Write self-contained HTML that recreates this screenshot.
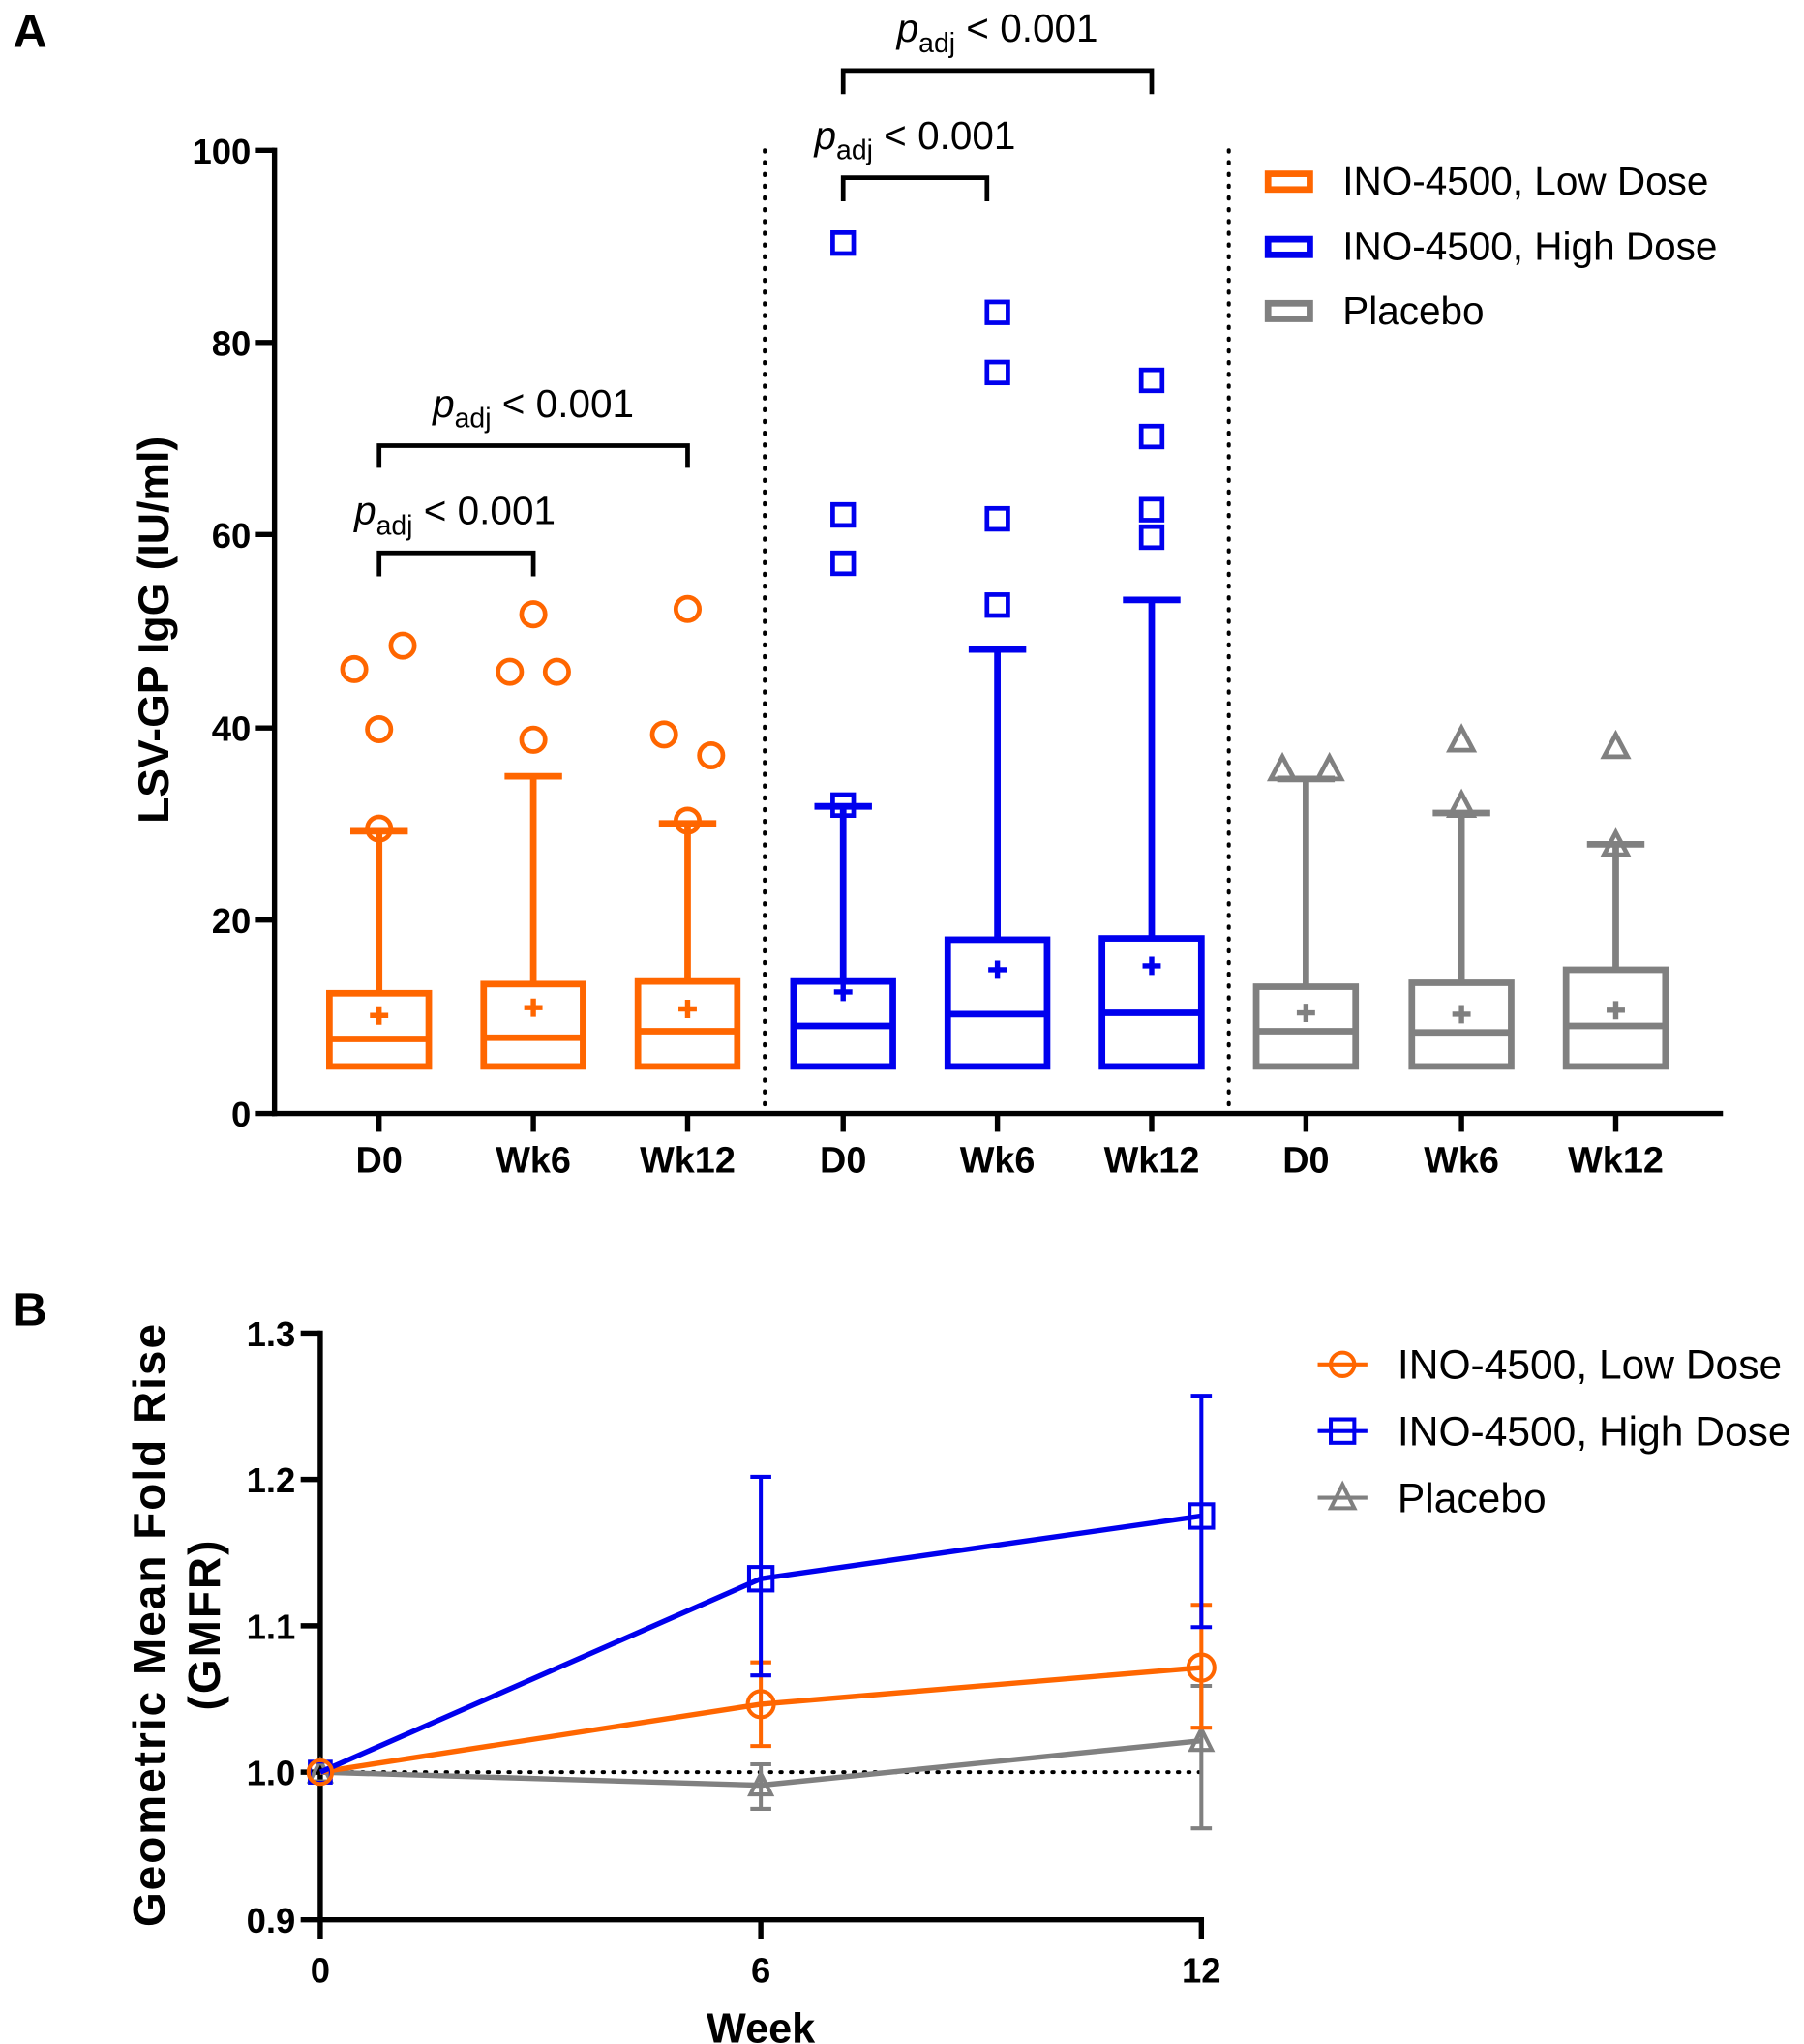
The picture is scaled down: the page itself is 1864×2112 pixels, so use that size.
<!DOCTYPE html>
<html><head><meta charset="utf-8"><style>
html,body{margin:0;padding:0;background:#fff}
svg{display:block}
text{font-family:"Liberation Sans",sans-serif}
</style></head><body>
<svg width="1864" height="2112" viewBox="0 0 1380 1564" preserveAspectRatio="none" xmlns="http://www.w3.org/2000/svg">
<rect width="1380" height="1564" fill="#fff"/>
<text x="10" y="36" font-size="36" font-weight="bold">A</text>
<text x="10" y="1014" font-size="36" font-weight="bold">B</text>

<!-- Panel A axes -->
<g stroke="#000" stroke-width="4" fill="none">
<line x1="210" y1="113" x2="210" y2="854"/>
<line x1="208" y1="852" x2="1318" y2="852"/>
<line x1="195" y1="115" x2="210" y2="115"/>
<line x1="195" y1="262" x2="210" y2="262"/>
<line x1="195" y1="409" x2="210" y2="409"/>
<line x1="195" y1="557" x2="210" y2="557"/>
<line x1="195" y1="704" x2="210" y2="704"/>
<line x1="195" y1="852" x2="210" y2="852"/>
<g>
<line x1="290" y1="852" x2="290" y2="866"/><line x1="408" y1="852" x2="408" y2="866"/><line x1="526" y1="852" x2="526" y2="866"/>
<line x1="645" y1="852" x2="645" y2="866"/><line x1="763" y1="852" x2="763" y2="866"/><line x1="881" y1="852" x2="881" y2="866"/>
<line x1="999" y1="852" x2="999" y2="866"/><line x1="1118" y1="852" x2="1118" y2="866"/><line x1="1236" y1="852" x2="1236" y2="866"/>
</g>
</g>
<g stroke="#000" stroke-width="3" stroke-dasharray="1 8" stroke-linecap="round">
<line x1="585" y1="115" x2="585" y2="850"/>
<line x1="940" y1="115" x2="940" y2="850"/>
</g>
<g font-size="27" font-weight="bold" text-anchor="end">
<text x="192" y="125">100</text><text x="192" y="272">80</text><text x="192" y="419">60</text>
<text x="192" y="567">40</text><text x="192" y="714">20</text><text x="192" y="862">0</text>
</g>
<g font-size="28" font-weight="bold" text-anchor="middle">
<text x="290" y="897">D0</text><text x="408" y="897">Wk6</text><text x="526" y="897">Wk12</text>
<text x="645" y="897">D0</text><text x="763" y="897">Wk6</text><text x="881" y="897">Wk12</text>
<text x="999" y="897">D0</text><text x="1118" y="897">Wk6</text><text x="1236" y="897">Wk12</text>
</g>
<text transform="translate(129,482) rotate(-90)" font-size="33" font-weight="bold" text-anchor="middle">LSV-GP IgG (IU/ml)</text>

<!-- brackets -->
<g stroke="#000" stroke-width="3.5" fill="none">
<polyline points="290,441 290,423 408,423 408,441"/>
<polyline points="290,358 290,341 526,341 526,358"/>
<polyline points="645,154 645,136 755,136 755,154"/>
<polyline points="645,72 645,54 881,54 881,72"/>
</g>
<g font-size="30" text-anchor="middle">
<text x="348" y="401"><tspan font-style="italic">p</tspan><tspan font-size="21" dy="8">adj</tspan><tspan dy="-8"> &lt; 0.001</tspan></text>
<text x="408" y="319"><tspan font-style="italic">p</tspan><tspan font-size="21" dy="8">adj</tspan><tspan dy="-8"> &lt; 0.001</tspan></text>
<text x="700" y="114"><tspan font-style="italic">p</tspan><tspan font-size="21" dy="8">adj</tspan><tspan dy="-8"> &lt; 0.001</tspan></text>
<text x="763" y="32"><tspan font-style="italic">p</tspan><tspan font-size="21" dy="8">adj</tspan><tspan dy="-8"> &lt; 0.001</tspan></text>
</g>

<!-- boxes -->
<g fill="none" stroke-width="5">
<g stroke="#ff6600">
<rect x="252" y="760" width="76" height="56"/><line x1="252" y1="795" x2="328" y2="795"/><line x1="290" y1="760" x2="290" y2="636"/><line x1="268" y1="636" x2="312" y2="636"/>
<rect x="370" y="753" width="76" height="63"/><line x1="370" y1="794" x2="446" y2="794"/><line x1="408" y1="753" x2="408" y2="594"/><line x1="386" y1="594" x2="430" y2="594"/>
<rect x="488" y="751" width="76" height="65"/><line x1="488" y1="789" x2="564" y2="789"/><line x1="526" y1="751" x2="526" y2="630"/><line x1="504" y1="630" x2="548" y2="630"/>
<circle cx="271" cy="512" r="9" stroke-width="3.5"/><circle cx="308" cy="494" r="9" stroke-width="3.5"/><circle cx="290" cy="558" r="9" stroke-width="3.5"/><circle cx="290" cy="634" r="9" stroke-width="3.5"/>
<circle cx="390" cy="514" r="9" stroke-width="3.5"/><circle cx="408" cy="470" r="9" stroke-width="3.5"/><circle cx="426" cy="514" r="9" stroke-width="3.5"/><circle cx="408" cy="566" r="9" stroke-width="3.5"/>
<circle cx="526" cy="466" r="9" stroke-width="3.5"/><circle cx="508" cy="562" r="9" stroke-width="3.5"/><circle cx="544" cy="578" r="9" stroke-width="3.5"/><circle cx="526" cy="628" r="9" stroke-width="3.5"/>
<path d="M283 777h14M290 770v14M401 771h14M408 764v14M519 772h14M526 765v14" stroke-width="4"/>
</g>
<g stroke="#0000ee">
<rect x="607" y="751" width="76" height="65"/><line x1="607" y1="785" x2="683" y2="785"/><line x1="645" y1="751" x2="645" y2="617"/><line x1="623" y1="617" x2="667" y2="617"/>
<rect x="725" y="719" width="76" height="97"/><line x1="725" y1="776" x2="801" y2="776"/><line x1="763" y1="719" x2="763" y2="497"/><line x1="741" y1="497" x2="785" y2="497"/>
<rect x="843" y="718" width="76" height="98"/><line x1="843" y1="775" x2="919" y2="775"/><line x1="881" y1="718" x2="881" y2="459"/><line x1="859" y1="459" x2="903" y2="459"/>
<g stroke-width="3.5">
<rect x="637" y="178" width="16" height="16"/><rect x="637" y="386" width="16" height="16"/><rect x="637" y="423" width="16" height="16"/><rect x="637" y="608" width="16" height="16"/>
<rect x="755" y="231" width="16" height="16"/><rect x="755" y="277" width="16" height="16"/><rect x="755" y="389" width="16" height="16"/><rect x="755" y="455" width="16" height="16"/>
<rect x="873" y="283" width="16" height="16"/><rect x="873" y="326" width="16" height="16"/><rect x="873" y="382" width="16" height="16"/><rect x="873" y="403" width="16" height="16"/>
</g>
<path d="M638 759h14M645 752v14M756 742h14M763 735v14M874 739h14M881 732v14" stroke-width="4"/>
</g>
<g stroke="#808080">
<rect x="961" y="755" width="76" height="61"/><line x1="961" y1="789" x2="1037" y2="789"/><line x1="999" y1="755" x2="999" y2="596"/><line x1="977" y1="596" x2="1021" y2="596"/>
<rect x="1080" y="752" width="76" height="64"/><line x1="1080" y1="790" x2="1156" y2="790"/><line x1="1118" y1="752" x2="1118" y2="622"/><line x1="1096" y1="622" x2="1140" y2="622"/>
<rect x="1198" y="742" width="76" height="74"/><line x1="1198" y1="785" x2="1274" y2="785"/><line x1="1236" y1="742" x2="1236" y2="646"/><line x1="1214" y1="646" x2="1258" y2="646"/>
<g stroke-width="3.5">
<polygon points="981,579 972,596 990,596"/><polygon points="1017,579 1008,596 1026,596"/>
<polygon points="1118,557 1109,574 1127,574"/><polygon points="1118,607 1109,624 1127,624"/>
<polygon points="1236,562 1227,579 1245,579"/><polygon points="1236,637 1227,654 1245,654"/>
</g>
<path d="M992 775h14M999 768v14M1111 776h14M1118 769v14M1229 773h14M1236 766v14" stroke-width="4"/>
</g>
</g>

<!-- legend A -->
<g fill="none" stroke-width="5">
<rect x="970" y="133" width="32" height="12" stroke="#ff6600"/>
<rect x="970" y="183" width="32" height="12" stroke="#0000ee"/>
<rect x="970" y="232" width="32" height="12" stroke="#808080"/>
</g>
<g font-size="30">
<text x="1027" y="149">INO-4500, Low Dose</text>
<text x="1027" y="199">INO-4500, High Dose</text>
<text x="1027" y="248">Placebo</text>
</g>

<!-- Panel B -->
<g stroke="#000" stroke-width="4" fill="none">
<line x1="245" y1="1018" x2="245" y2="1484"/>
<line x1="243" y1="1469" x2="921" y2="1469"/>
<line x1="230" y1="1020" x2="245" y2="1020"/><line x1="230" y1="1132" x2="245" y2="1132"/>
<line x1="230" y1="1244" x2="245" y2="1244"/><line x1="230" y1="1356" x2="245" y2="1356"/><line x1="230" y1="1469" x2="245" y2="1469"/>
<line x1="582" y1="1469" x2="582" y2="1484"/><line x1="919" y1="1469" x2="919" y2="1484"/>
</g>
<line x1="245" y1="1356" x2="919" y2="1356" stroke="#000" stroke-width="3" stroke-dasharray="1 7" stroke-linecap="round"/>
<g font-size="27" font-weight="bold" text-anchor="end">
<text x="226" y="1030">1.3</text><text x="226" y="1142">1.2</text><text x="226" y="1254">1.1</text><text x="226" y="1366">1.0</text><text x="226" y="1479">0.9</text>
</g>
<g font-size="27" font-weight="bold" text-anchor="middle">
<text x="245" y="1517">0</text><text x="582" y="1517">6</text><text x="919" y="1517">12</text>
<text x="582" y="1563" font-size="32">Week</text>
</g>
<g font-size="34" font-weight="bold" text-anchor="middle" letter-spacing="1.5">
<text transform="translate(126,1243) rotate(-90)">Geometric Mean Fold Rise</text>
<text transform="translate(168,1243) rotate(-90)">(GMFR)</text>
</g>
<!-- gray -->
<g stroke="#808080" fill="none" stroke-width="3">
<polyline points="245,1356 582,1366 919,1332" stroke-width="4"/>
<line x1="582" y1="1350" x2="582" y2="1384"/><line x1="574" y1="1350" x2="590" y2="1350"/><line x1="574" y1="1384" x2="590" y2="1384"/>
<line x1="919" y1="1290" x2="919" y2="1399"/><line x1="911" y1="1290" x2="927" y2="1290"/><line x1="911" y1="1399" x2="927" y2="1399"/>
<polygon points="582,1357 574,1373 590,1373"/><polygon points="919,1323 911,1339 927,1339"/><polygon points="245,1347 237,1363 253,1363"/>
</g>
<!-- orange -->
<g stroke="#ff6600" fill="none" stroke-width="3">
<polyline points="245,1356 582,1304 919,1276" stroke-width="4"/>
<line x1="582" y1="1272" x2="582" y2="1336"/><line x1="574" y1="1272" x2="590" y2="1272"/><line x1="574" y1="1336" x2="590" y2="1336"/>
<line x1="919" y1="1228" x2="919" y2="1322"/><line x1="911" y1="1228" x2="927" y2="1228"/><line x1="911" y1="1322" x2="927" y2="1322"/>
</g>
<!-- blue -->
<g stroke="#0000ee" fill="none" stroke-width="3">
<polyline points="245,1356 582,1208 919,1160" stroke-width="4"/>
<line x1="582" y1="1130" x2="582" y2="1282"/><line x1="574" y1="1130" x2="590" y2="1130"/><line x1="574" y1="1282" x2="590" y2="1282"/>
<line x1="919" y1="1068" x2="919" y2="1245"/><line x1="911" y1="1068" x2="927" y2="1068"/><line x1="911" y1="1245" x2="927" y2="1245"/>
<rect x="237" y="1348" width="16" height="16"/><rect x="573" y="1199" width="18" height="18"/><rect x="910" y="1151" width="18" height="18"/>
</g>
<g stroke="#ff6600" fill="none" stroke-width="3">
<circle cx="245" cy="1356" r="9"/><circle cx="582" cy="1304" r="10"/><circle cx="919" cy="1276" r="10"/>
</g>
<!-- legend B -->
<g fill="none" stroke-width="3">
<g stroke="#ff6600"><line x1="1008" y1="1044" x2="1046" y2="1044"/><circle cx="1027" cy="1044" r="9"/></g>
<g stroke="#0000ee"><line x1="1008" y1="1095" x2="1046" y2="1095"/><rect x="1018" y="1086" width="18" height="18"/></g>
<g stroke="#808080"><line x1="1008" y1="1146" x2="1046" y2="1146"/><polygon points="1027,1136 1018,1154 1036,1154"/></g>
</g>
<g font-size="31.5">
<text x="1069" y="1055">INO-4500, Low Dose</text>
<text x="1069" y="1106">INO-4500, High Dose</text>
<text x="1069" y="1157">Placebo</text>
</g>
</svg>
</body></html>
